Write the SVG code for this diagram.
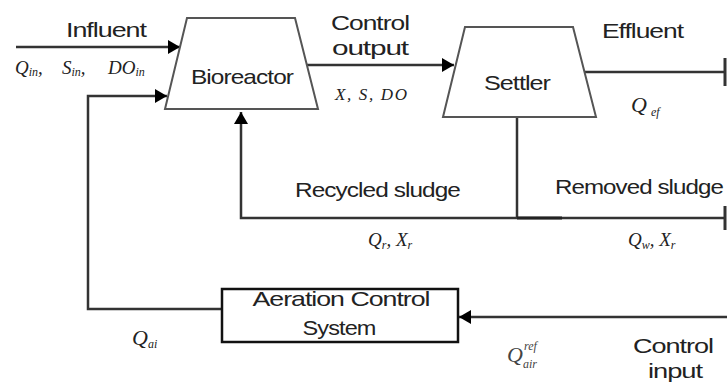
<svg xmlns="http://www.w3.org/2000/svg" width="727" height="387" viewBox="0 0 727 387">
<style>
.ln{fill:none;stroke:#333;stroke-width:2.5}
.nd{fill:#fff;stroke:#555;stroke-width:2}
.bx{fill:#fff;stroke:#111;stroke-width:2.5}
.t{font-family:"Liberation Sans",Arial,sans-serif;font-size:21px;fill:#222;letter-spacing:-0.8px}
.m{font-family:"Liberation Serif","Times New Roman",serif;font-style:italic;font-size:19px;fill:#222}
.s{font-size:12px}
</style>
<defs>
<marker id="ah" viewBox="0 0 12 14" refX="12" refY="7" markerWidth="12" markerHeight="14" markerUnits="userSpaceOnUse" orient="auto">
<path d="M0,0 L12,7 L0,14 Z" fill="#000"/>
</marker>
</defs>
<g id="connectors">
<line class="ln" x1="16" y1="47" x2="180" y2="47" marker-end="url(#ah)"/>
<polyline class="ln" points="222,309 88,309 88,96 167,96" marker-end="url(#ah)"/>
<line class="ln" x1="307" y1="65" x2="454" y2="65" marker-end="url(#ah)"/>
<line class="ln" x1="585" y1="72" x2="724" y2="72"/>
<line x1="725" y1="58" x2="725" y2="86" stroke="#333" stroke-width="3"/>
<line class="ln" x1="517" y1="117" x2="517" y2="218"/>
<polyline class="ln" points="724,218 241,218 241,112" marker-end="url(#ah)"/>
<line x1="517" y1="218" x2="562" y2="218" stroke="#222" stroke-width="3"/>
<line x1="725" y1="206" x2="725" y2="230" stroke="#333" stroke-width="3"/>
<line class="ln" x1="727" y1="317" x2="459" y2="317" marker-end="url(#ah)"/>
</g>
<g id="bioreactor">
<polygon class="nd" points="187,18 295,18 318,109 165,109"/>
<text class="t" x="242" y="84" text-anchor="middle" textLength="102" lengthAdjust="spacingAndGlyphs">Bioreactor</text>
</g>
<g id="settler">
<polygon class="nd" points="465,27 573,27 596,117 443,117"/>
<text class="t" x="517" y="90" text-anchor="middle" textLength="66" lengthAdjust="spacingAndGlyphs">Settler</text>
</g>
<g id="aeration-control">
<rect class="bx" x="222" y="289" width="236" height="53"/>
<text class="t" x="341" y="306" text-anchor="middle" textLength="177" lengthAdjust="spacingAndGlyphs">Aeration Control</text>
<text class="t" x="339" y="335" text-anchor="middle" textLength="73" lengthAdjust="spacingAndGlyphs">System</text>
</g>
<g id="labels">
<text class="t" x="66" y="37" textLength="80" lengthAdjust="spacingAndGlyphs">Influent</text>
<text class="m" y="74"><tspan x="15">Q</tspan><tspan class="s" dy="2">in</tspan><tspan dy="-2">,</tspan><tspan x="62">S</tspan><tspan class="s" dy="2">in</tspan><tspan dy="-2">,</tspan><tspan x="108">DO</tspan><tspan class="s" dy="2">in</tspan></text>
<text class="t" x="370" y="30" text-anchor="middle" textLength="78" lengthAdjust="spacingAndGlyphs">Control</text>
<text class="t" x="370" y="55" text-anchor="middle" textLength="76" lengthAdjust="spacingAndGlyphs">output</text>
<text class="m" x="371" y="100" text-anchor="middle" textLength="72" style="font-size:17px">X, S, DO</text>
<text class="t" x="602" y="38" textLength="81" lengthAdjust="spacingAndGlyphs">Effluent</text>
<text class="m" x="631" y="112" style="font-size:22px">Q<tspan class="s" dx="4" dy="4">ef</tspan></text>
<text class="t" x="295" y="197" textLength="165" lengthAdjust="spacingAndGlyphs">Recycled sludge</text>
<text class="t" x="555" y="194" textLength="168" lengthAdjust="spacingAndGlyphs">Removed sludge</text>
<text class="m" x="368" y="246">Q<tspan class="s" dy="3">r</tspan><tspan dy="-3">, X</tspan><tspan class="s" dy="3">r</tspan></text>
<text class="m" x="628" y="246">Q<tspan class="s" dy="3">w</tspan><tspan dy="-3">, X</tspan><tspan class="s" dy="3">r</tspan></text>
<text class="m" x="132" y="345" style="font-size:22px">Q<tspan class="s" dy="3">ai</tspan></text>
<text class="m" x="507" y="362" style="font-size:22px;fill:#444">Q</text>
<text class="m s" x="524" y="350" style="fill:#444">ref</text>
<text class="m s" x="523" y="368" style="fill:#444">air</text>
<text class="t" x="673" y="353" text-anchor="middle" textLength="80" lengthAdjust="spacingAndGlyphs">Control</text>
<text class="t" x="675" y="378" text-anchor="middle" textLength="54" lengthAdjust="spacingAndGlyphs">input</text>
</g>
</svg>
